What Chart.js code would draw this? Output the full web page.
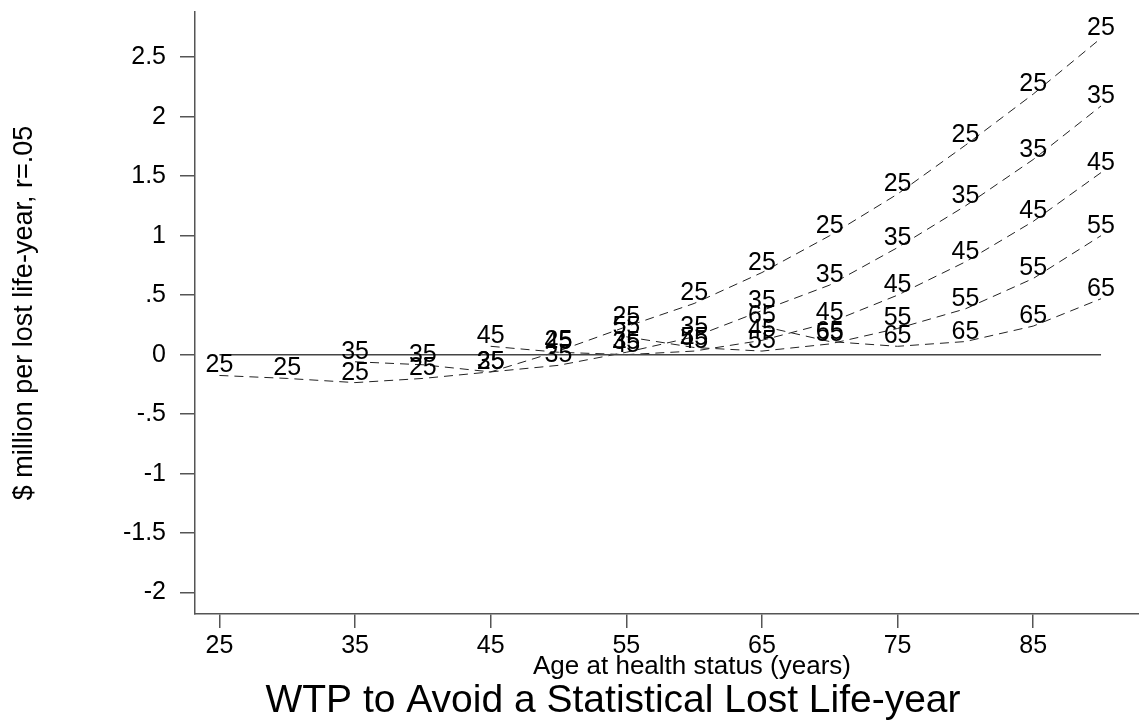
<!DOCTYPE html>
<html><head><meta charset="utf-8">
<script src="https://cdn.jsdelivr.net/npm/chart.js@4/dist/chart.umd.min.js"></script>
<style>html,body{margin:0;padding:0;background:#fff;overflow:hidden}#wrap{width:1139px;height:722px;position:relative}</style>
</head><body><div id="wrap"><canvas id="c" width="1139" height="722"></canvas></div>
<script>
// ---- data ----
const ages = [25,30,35,40,45,50,55,60,65,70,75,80,85,90];
const seriesLabels = ['25','35','45','55','65'];
const wtp25 = [-0.175,-0.20,-0.235,-0.20,-0.145,0.03,0.235,0.43,0.69,1.00,1.35,1.76,2.19,2.66];
const wtp35 = [null,null,-0.06,-0.085,-0.145,-0.09,0.02,0.15,0.37,0.585,0.90,1.25,1.64,2.09];
const wtp45 = [null,null,null,null,0.07,0.02,0.00,0.03,0.12,0.27,0.50,0.78,1.12,1.53];
const wtp55 = [null,null,null,null,null,null,0.15,0.06,0.03,0.09,0.22,0.385,0.64,1.00];
const wtp65 = [null,null,null,null,null,null,null,null,0.24,0.11,0.07,0.11,0.24,0.47];
const zeroLineX = [25,90];
const zeroLineY = [0,0];
const xTicks = [25,35,45,55,65,75,85];
const yTicks = [-2,-1.5,-1,-0.5,0,0.5,1,1.5,2,2.5];
const yTickLabels = ['-2','-1.5','-1','-.5','0','.5','1','1.5','2','2.5'];
const xTitle = 'Age at health status (years)';
const yTitle = '$ million per lost life-year, r=.05';
const mainTitle = 'WTP to Avoid a Statistical Lost Life-year';

const FAM = '"Liberation Sans", Arial, Helvetica, sans-serif';
const allSeries = [wtp25, wtp35, wtp45, wtp55, wtp65];

function toPoints(vals){
  const out = [];
  vals.forEach((v,i)=>{ if(v!==null) out.push({x:ages[i], y:v}); });
  return out;
}

const datasets = [{
  label:'zero', data: zeroLineX.map((x,i)=>({x:x,y:zeroLineY[i]})),
  borderColor:'#444', borderWidth:1.5, pointRadius:0, fill:false, tension:0
}];
allSeries.forEach((vals,k)=>{
  datasets.push({
    label: seriesLabels[k], markerLabel: seriesLabels[k], data: toPoints(vals),
    borderColor:'#222', borderWidth:1, borderDash:[9,6], pointRadius:0, fill:false, tension:0
  });
});

const pointLabels = {
  id:'pointLabels',
  afterDatasetsDraw(chart){
    const ctx = chart.ctx; ctx.save();
    ctx.font = '25px ' + FAM; ctx.fillStyle = '#000';
    ctx.textAlign = 'center'; ctx.textBaseline = 'alphabetic';
    chart.data.datasets.forEach((ds,i)=>{
      if(!ds.markerLabel) return;
      chart.getDatasetMeta(i).data.forEach(pt=>{ ctx.fillText(ds.markerLabel, pt.x, pt.y - 3); });
    });
    ctx.restore();
  }
};

const titles = {
  id:'titles',
  afterDraw(chart){
    const ctx = chart.ctx; ctx.save();
    ctx.fillStyle = '#000'; ctx.textAlign = 'center'; ctx.textBaseline = 'alphabetic';
    ctx.font = '26px ' + FAM; ctx.fillText(xTitle, 692, 674);
    ctx.font = '39px ' + FAM; ctx.fillText(mainTitle, 613, 712);
    ctx.restore();
  }
};

new Chart(document.getElementById('c'), {
  type:'line',
  data:{ datasets: datasets },
  plugins:[pointLabels, titles],
  options:{
    responsive:false, animation:false, devicePixelRatio:1,
    layout:{ padding:{ top:12, right:0, left:0, bottom:0 } },
    plugins:{ legend:{display:false}, tooltip:{enabled:false}, title:{display:false} },
    scales:{
      x:{
        type:'linear', min:23.2, max:92.8,
        afterBuildTicks: s=>{ s.ticks = xTicks.map(v=>({value:v})); },
        afterFit: s=>{ s.height = 108; s.paddingLeft = 0; s.paddingRight = 0; },
        grid:{ display:true, drawOnChartArea:false, drawTicks:true, tickLength:14, color:'#555', lineWidth:1.5 },
        border:{ display:true, color:'#555', width:1.5 },
        ticks:{ font:{size:25, family:FAM}, color:'#000', padding:3, maxRotation:0, autoSkip:false,
                callback:(v)=>String(v) }
      },
      y:{
        type:'linear', min:-2.18, max:2.88,
        afterBuildTicks: s=>{ s.ticks = yTicks.map(v=>({value:v})); },
        afterFit: s=>{ s.width = 195; s.paddingTop = 0; s.paddingBottom = 0; },
        grid:{ display:true, drawOnChartArea:false, drawTicks:true, tickLength:15, color:'#555', lineWidth:1.5 },
        border:{ display:true, color:'#555', width:1.5 },
        ticks:{ font:{size:25, family:FAM}, color:'#000', padding:14, autoSkip:false,
                callback:(v,i)=>yTickLabels[i] },
        title:{ display:true, text:yTitle, color:'#000', font:{size:27, family:FAM}, padding:{top:8,bottom:0} }
      }
    }
  }
});
</script></body></html>
